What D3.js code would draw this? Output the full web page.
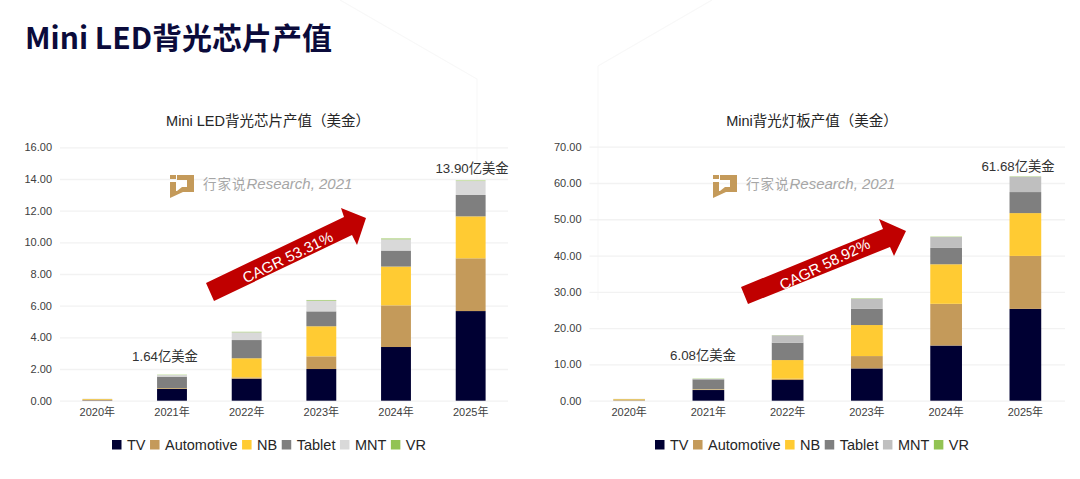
<!DOCTYPE html>
<html>
<head>
  <meta charset="utf-8">
  <script src="https://d3js.org/d3.v7.min.js"></script>
  <style>
    body { margin: 0; background: white; }
    text { font-family: "Liberation Sans", "Noto Sans CJK SC", sans-serif; }
  </style>
</head>
<body>
<svg id="page" width="1080" height="479"></svg>
<script>
  // values, one array per layer, 2020..2025
  const years = ["2020年", "2021年", "2022年", "2023年", "2024年", "2025年"]
  const seriesNames = ["TV", "Automotive", "NB", "Tablet", "MNT", "VR"]

  // left chart: chips
  const chipTV         = [0.02, 0.76, 1.39, 2.00, 3.39, 5.66]
  const chipAutomotive = [0.03, 0.02, 0.08, 0.80, 2.63, 3.33]
  const chipNB         = [0.05, 0.02, 1.21, 1.90, 2.45, 2.65]
  const chipTablet     = [0.01, 0.72, 1.15, 0.94, 1.01, 1.35]
  const chipMNT        = [0.01, 0.10, 0.49, 0.68, 0.71, 0.88]
  const chipVR         = [0.00, 0.02, 0.03, 0.04, 0.05, 0.03]
  const chipTicks = [0, 2, 4, 6, 8, 10, 12, 14, 16]

  // right chart: backlight boards
  const boardTV         = [0.05, 2.94, 5.70, 8.90, 15.20, 25.30]
  const boardAutomotive = [0.10, 0.10, 0.36, 3.40, 11.50, 14.60]
  const boardNB         = [0.25, 0.10, 5.14, 8.55, 10.90, 11.80]
  const boardTablet     = [0.05, 2.74, 4.80, 4.45, 4.50, 5.80]
  const boardMNT        = [0.05, 0.12, 2.00, 2.80, 3.00, 4.20]
  const boardVR         = [0.00, 0.08, 0.05, 0.10, 0.10, 0.10]
  const boardTicks = [0, 10, 20, 30, 40, 50, 60, 70]

  const colorsLeft  = ["#000033", "#c49a5a", "#ffcb33", "#7f7f7f", "#d9d9d9", "#92c353"]
  const colorsRight = ["#000033", "#c49a5a", "#ffcb33", "#7f7f7f", "#bfbfbf", "#92c353"]

  const svg = d3.select("#page")

  // faint slide background shapes
  svg.append("path")
    .attr("d", "M340 0L477 79V300M598 66L712 0M598 66V300")
    .attr("fill", "none").attr("stroke", "#f8f8f8").attr("stroke-width", 1.2)

  svg.append("text").attr("x", 25).attr("y", 49)
    .attr("font-size", 30).attr("font-weight", 700).attr("fill", "#0b0b3b")
    .style("font-family", '"Noto Sans CJK SC", sans-serif')
    .text("Mini LED背光芯片产值")

  function drawChart(o) {
    const table = years.map((year, i) => {
      const row = {year}
      seriesNames.forEach((s, k) => row[s] = o.layers[k][i])
      return row
    })
    const stacked = d3.stack().keys(seriesNames)(table)

    const x = d3.scaleBand().domain(years).range([o.left, o.right])
      .paddingInner(0.6).paddingOuter(0.3)
    const y = d3.scaleLinear().domain([0, d3.max(o.ticks)]).range([o.bottom, o.top])

    // grid + y labels
    svg.append("g")
      .attr("transform", `translate(${o.left},0)`)
      .call(d3.axisLeft(y).tickValues(o.ticks).tickFormat(d3.format(".2f"))
        .tickSize(-(o.right - o.left)).tickPadding(8))
      .call(g => g.select(".domain").remove())
      .call(g => g.selectAll(".tick line").attr("stroke", "#f2f2f2").attr("stroke-width", 1.3))
      .call(g => g.selectAll(".tick text").attr("font-size", 11).attr("fill", "#404040")
        .style("font-family", '"Liberation Sans", sans-serif'))

    svg.append("g")
      .attr("transform", `translate(0,${o.bottom})`)
      .call(d3.axisBottom(x).tickSize(0).tickPadding(8))
      .call(g => g.select(".domain").remove())
      .call(g => g.selectAll(".tick text").attr("font-size", 11).attr("fill", "#404040")
        .style("font-family", '"Liberation Sans", "Noto Sans CJK SC", sans-serif'))

    // watermark
    const mark = svg.append("g").attr("transform", `translate(${o.markX},175)`)
    mark.append("path").attr("fill", "#c49a5a")
      .attr("d", "M1 0h6v4h-6zM1 7h6v9h1l5-4h5V5H8V0h17v17H14l-13 6z")
    const markText = mark.append("text").attr("x", 34).attr("y", 14).attr("fill", "#a6a6a6")
    markText.append("tspan").attr("font-size", 13.500).attr("letter-spacing", 1).text("行家说")
    markText.append("tspan").attr("font-size", 15).attr("font-style", "italic").text("Research, 2021")

    // bars
    svg.append("g").selectAll("g").data(stacked).join("g")
      .attr("fill", (d, i) => o.colors[i])
      .selectAll("rect").data(d => d).join("rect")
      .attr("x", d => x(d.data.year))
      .attr("y", d => y(d[1]))
      .attr("width", x.bandwidth())
      .attr("height", d => y(d[0]) - y(d[1]))

    svg.append("text").attr("x", o.titleX).attr("y", 126).attr("text-anchor", "middle")
      .attr("font-size", 14.5).attr("fill", "#262626").text(o.title)

    // total labels
    o.totals.forEach(t => {
      svg.append("text").attr("x", t.x).attr("y", t.y).attr("text-anchor", "middle")
        .attr("font-size", 13.3).attr("fill", "#333").text(t.label)
    })

    // CAGR arrow
    svg.append("path").attr("d", o.arrow).attr("fill", "#c00000")
    svg.append("text")
      .attr("transform", `translate(${o.cagrX},${o.cagrY}) rotate(-26)`)
      .attr("text-anchor", "middle").attr("font-size", 15).attr("fill", "white")
      .text(o.cagr)

    // legend, laid out from measured text widths
    let lx = o.legendX
    seriesNames.forEach((s, i) => {
      svg.append("rect").attr("x", lx).attr("y", 440).attr("width", 9.500).attr("height", 9.500)
        .attr("fill", o.colors[i])
      const t = svg.append("text").attr("x", lx + 15).attr("y", 450)
        .attr("font-size", 14.5).attr("fill", "#262626").text(s)
      lx += 15 + t.node().getComputedTextLength() + 4.5
    })
  }

  drawChart({
    title: "Mini LED背光芯片产值（美金）", titleX: 268,
    layers: [chipTV, chipAutomotive, chipNB, chipTablet, chipMNT, chipVR],
    ticks: chipTicks, colors: colorsLeft,
    left: 60, right: 508, top: 147.300, bottom: 400.700,
    markX: 169,
    totals: [{x: 165, y: 361, label: "1.64亿美金"}, {x: 472, y: 173, label: "13.90亿美金"}],
    arrow: "M206 283L344 217L341 208L366 218L357 245L352 235L214 301Z",
    cagr: "CAGR 53.31%", cagrX: 290, cagrY: 262,
    legendX: 112
  })

  drawChart({
    title: "Mini背光灯板产值（美金）", titleX: 812,
    layers: [boardTV, boardAutomotive, boardNB, boardTablet, boardMNT, boardVR],
    ticks: boardTicks, colors: colorsRight,
    left: 589.500, right: 1065, top: 146.700, bottom: 400.700,
    markX: 712,
    totals: [{x: 703, y: 360, label: "6.08亿美金"}, {x: 1018, y: 171, label: "61.68亿美金"}],
    arrow: "M741 287L883 229L879 219L906 231L894 256L890 247L748 304Z",
    cagr: "CAGR 58.92%", cagrX: 827, cagrY: 269,
    legendX: 655
  })
</script>
</body>
</html>
